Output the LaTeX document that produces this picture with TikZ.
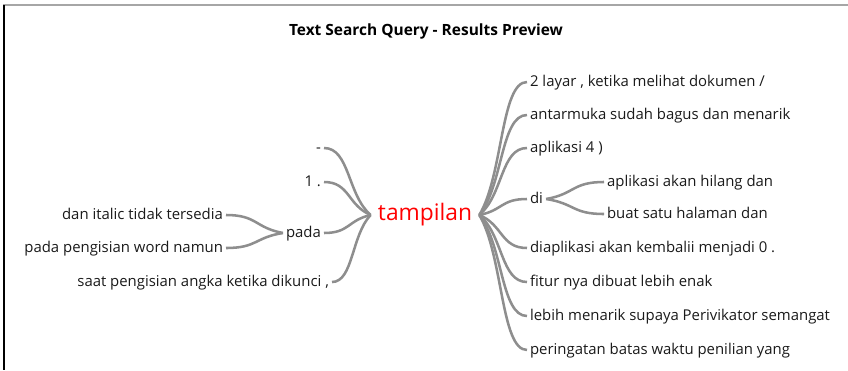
\documentclass[tikz,border=0pt]{standalone}
\usepackage{fontspec}
\setmainfont{Open Sans}
\usetikzlibrary{calc}
\definecolor{branchgray}{HTML}{8E8E8E}
\definecolor{hubred}{HTML}{FF0000}
\definecolor{textgray}{HTML}{1A1A1A}
\newcommand{\branch}[2]{%
  \draw[branch] let \p1=(#1), \p2=(#2) in
    (\p1) .. controls ({\x1+0.5*(\x2-\x1)},{\y1+0.3*(\y2-\y1)})
             and ({\x1+0.45*(\x2-\x1)},{\y2}) .. (\p2);}

\begin{document}
\begin{tikzpicture}[
  x=0.025cm, y=-0.025cm,
  txt/.style={font=\fontsize{10.6}{12}\selectfont, text=textgray, inner sep=2pt,
              text height=1.6ex, text depth=.3ex},
  hub/.style={font=\fontsize{16.2}{18}\selectfont, text=hubred, inner sep=5pt},
  heading/.style={font=\fontsize{11}{13}\selectfont\bfseries, text=black},
  branch/.style={draw=branchgray, line width=1.8pt}
]
\useasboundingbox (0,0) rectangle (848,370);
\draw[gray!70, line width=1pt] (3,5) -- (848,5);
\draw[black, line width=1.2pt] (4,5) -- (4,370);

\node[heading] (title) at (426,31) {Text Search Query - Results Preview};
\node[hub] (tampilan) at (425,215) {tampilan};

% left side
\node[txt, anchor=east] (dash) at (324,148) {-};
\node[txt, anchor=east] (one) at (324,182) {1 .};
\node[txt, anchor=east] (pada) at (324,233) {pada};
\node[txt, anchor=east] (saat) at (332,282) {saat pengisian angka ketika dikunci ,};
\node[txt, anchor=east] (italic) at (226,215) {dan italic tidak tersedia};
\node[txt, anchor=east] (word) at (226,248) {pada pengisian word namun};

% right side
\node[txt, anchor=west] (layar) at (527,82) {2 layar , ketika melihat dokumen /};
\node[txt, anchor=west] (antarmuka) at (527,115) {antarmuka sudah bagus dan menarik};
\node[txt, anchor=west] (aplikasi) at (527,148) {aplikasi 4 )};
\node[txt, anchor=west] (di) at (527,199) {di};
\node[txt, anchor=west] (hilang) at (604,182) {aplikasi akan hilang dan};
\node[txt, anchor=west] (halaman) at (604,214) {buat satu halaman dan};
\node[txt, anchor=west] (kembali) at (527,248) {diaplikasi akan kembalii menjadi 0 .};
\node[txt, anchor=west] (fitur) at (527,282) {fitur nya dibuat lebih enak};
\node[txt, anchor=west] (lebih) at (527,316) {lebih menarik supaya Perivikator semangat};
\node[txt, anchor=west] (batas) at (527,350) {peringatan batas waktu penilian yang};

% branches
\foreach \k in {dash,one,pada,saat}
  \branch{tampilan.west}{\k.east};
\foreach \k in {italic,word}
  \branch{pada.west}{\k.east};
\foreach \k in {layar,antarmuka,aplikasi,di,kembali,fitur,lebih,batas}
  \branch{tampilan.east}{\k.west};
\foreach \k in {hilang,halaman}
  \branch{di.east}{\k.west};
\end{tikzpicture}
\end{document}
